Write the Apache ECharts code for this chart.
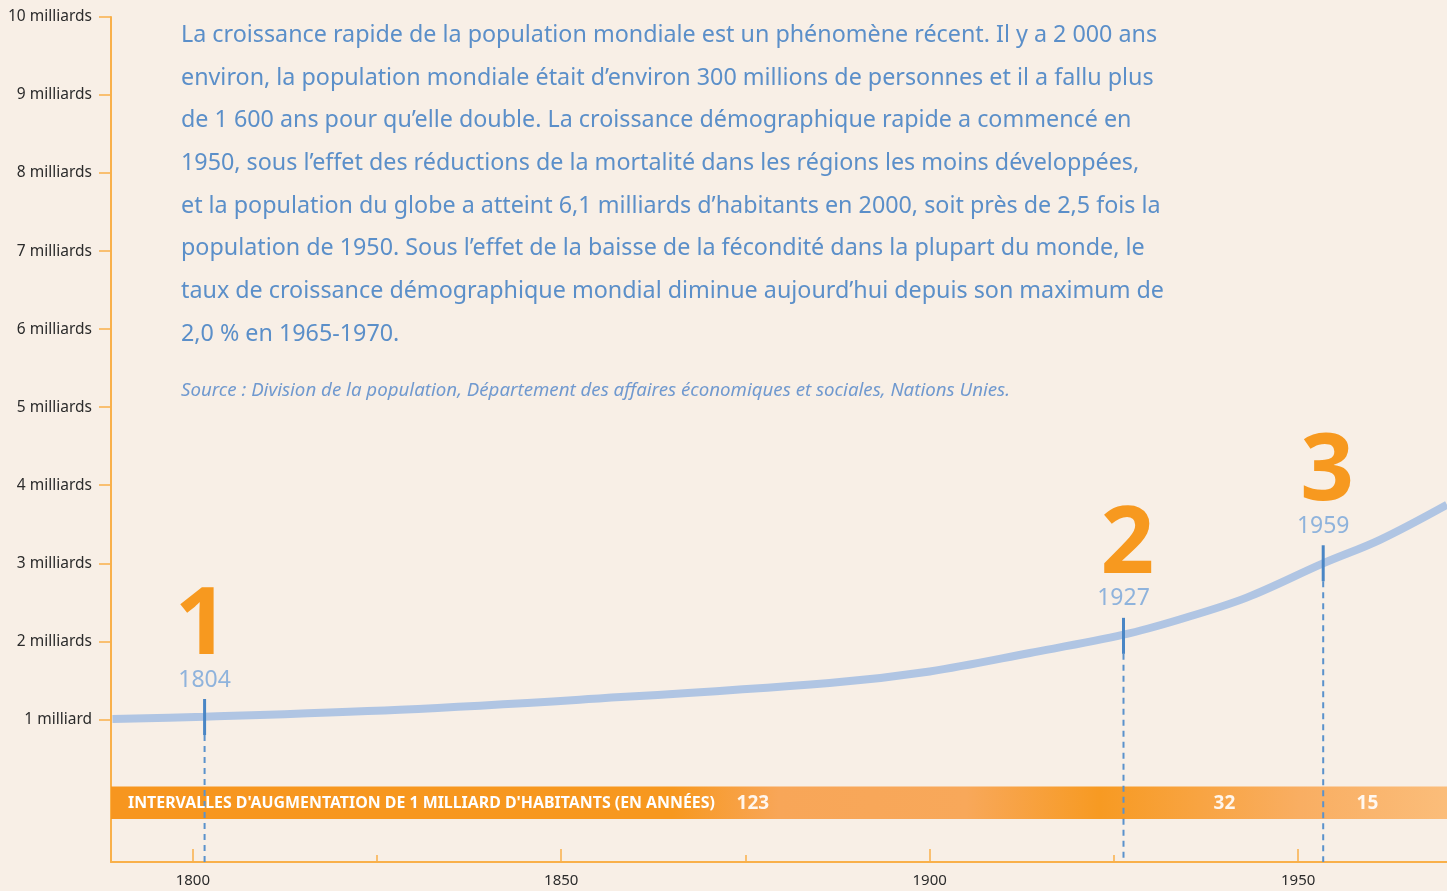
<!DOCTYPE html>
<html>
<head>
<meta charset="utf-8">
<script src="https://cdn.jsdelivr.net/npm/echarts@6/dist/echarts.min.js"></script>
<style>
  html, body { margin: 0; padding: 0; background: #f8efe6; }
  #chart { width: 1447px; height: 891px; }
</style>
</head>
<body>
<div id="chart"></div>
<script>
// population curve (years as plotted, billions)
var years = [1789.1, 1801.6, 1828.1, 1852.5, 1886.4, 1900.0, 1913.6, 1926.3, 1933.9, 1943.0, 1953.3, 1961.1, 1970.2];
var population = [1.005, 1.034, 1.124, 1.252, 1.466, 1.614, 1.85, 2.085, 2.28, 2.56, 2.995, 3.30, 3.75];

// milestones: where the marker sits on the x scale, its value, its labels
var markerYears = [1801.6, 1926.3, 1953.4];
var markerValues = [1.03, 2.07, 3.0];
var markerLabels = ['1804', '1927', '1959'];
var markerNumbers = ['1', '2', '3'];

// years needed for each additional billion
var intervalYears = [123, 32, 15];
var intervalLabelX = [1876, 1940, 1959.4];

var yTickValues = [1, 2, 3, 4, 5, 6, 7, 8, 9, 10];
var xLabelValues = [1800, 1850, 1900, 1950];
var xMinorValues = [1825, 1875, 1925];

var paragraph = [
  'La croissance rapide de la population mondiale est un phénomène récent. Il y a 2 000 ans',
  'environ, la population mondiale était d’environ 300 millions de personnes et il a fallu plus',
  'de 1 600 ans pour qu’elle double. La croissance démographique rapide a commencé en',
  '1950, sous l’effet des réductions de la mortalité dans les régions les moins développées,',
  'et la population du globe a atteint 6,1 milliards d’habitants en 2000, soit près de 2,5 fois la',
  'population de 1950. Sous l’effet de la baisse de la fécondité dans la plupart du monde, le',
  'taux de croissance démographique mondial diminue aujourd’hui depuis son maximum de',
  '2,0 % en 1965-1970.'
];
var sourceText = 'Source : Division de la population, Département des affaires économiques et sociales, Nations Unies.';
var bandTitle = 'INTERVALLES D\'AUGMENTATION DE 1 MILLIARD D\'HABITANTS (EN ANNÉES)';

var X_MIN = 1788.9, X_MAX = 1970.2, Y_MIN = -0.828, Y_MAX = 10;
var orange = '#f9b04a';
var font = '"Noto Sans", sans-serif';

var chart = echarts.init(document.getElementById('chart'));

var bandGradient = new echarts.graphic.LinearGradient(0, 0, 1, 0, [
  { offset: 0, color: '#f7961f' },
  { offset: 0.42, color: '#f7981f' },
  { offset: 0.5, color: '#f8a658' },
  { offset: 0.64, color: '#f8a85a' },
  { offset: 0.74, color: '#f79a22' },
  { offset: 0.89, color: '#f9ae62' },
  { offset: 1, color: '#fbbd7a' }
]);

chart.setOption({
  backgroundColor: '#f8efe6',
  animation: false,
  textStyle: { fontFamily: font },
  grid: { left: 111, right: 0, top: 17, bottom: 29 },
  xAxis: [{
    type: 'value', min: X_MIN, max: X_MAX,
    axisLine: { show: true, onZero: false, lineStyle: { color: orange, width: 2 } },
    axisTick: { show: true, inside: true, length: 13, customValues: xLabelValues, lineStyle: { color: orange, width: 1.5 } },
    axisLabel: {
      customValues: xLabelValues, color: '#2b2b2b', fontSize: 15, margin: 11, fontFamily: font,
      formatter: function (v) { return String(v); }
    },
    splitLine: { show: false }
  }, {
    type: 'value', min: X_MIN, max: X_MAX, position: 'bottom',
    axisLine: { show: false, onZero: false },
    axisTick: { show: true, inside: true, length: 7, customValues: xMinorValues, lineStyle: { color: orange, width: 1.5 } },
    axisLabel: { show: false },
    splitLine: { show: false }
  }],
  yAxis: {
    type: 'value', min: Y_MIN, max: Y_MAX,
    axisLine: { show: true, lineStyle: { color: orange, width: 2 } },
    axisTick: { show: true, length: 12, customValues: yTickValues, lineStyle: { color: orange, width: 1.5 } },
    axisLabel: {
      customValues: yTickValues, color: '#2b2b2b', fontSize: 15.5, margin: 19, fontFamily: font,
      formatter: function (v) { return v === 1 ? '1 milliard' : v + ' milliards'; }
    },
    splitLine: { show: false }
  },
  graphic: [{
    type: 'text', left: 181, top: 14,
    style: {
      text: paragraph.join('\n'), fill: '#5b8fc9', font: '23.3px ' + font, lineHeight: 42.7
    }
  }, {
    type: 'text', left: 181, top: 381,
    style: { text: sourceText, fill: '#7099cf', font: 'italic 18.7px ' + font }
  }, {
    type: 'text', left: 128, top: 795, z: 10,
    style: { text: bandTitle, fill: '#ffffff', font: 'bold 15.9px ' + font }
  }],
  series: [{
    type: 'line',
    data: years.map(function (y, i) { return [y, population[i]]; }),
    smooth: 0.35,
    showSymbol: false,
    lineStyle: { color: '#b0c5e3', width: 8 },
    z: 3,
    markArea: {
      silent: true,
      itemStyle: { color: bandGradient },
      data: [[{ yAxis: 0.141, xAxis: X_MIN }, { yAxis: -0.277, xAxis: X_MAX }]]
    }
  }, {
    type: 'custom',
    z: 6,
    data: intervalYears.map(function (n, i) { return [intervalLabelX[i], -0.08, n]; }),
    renderItem: function (params, api) {
      var p = api.coord([api.value(0), api.value(1)]);
      return {
        type: 'text',
        style: {
          x: p[0], y: p[1], text: String(api.value(2)),
          fill: 'rgba(255,255,255,0.9)', font: 'bold 19px ' + font,
          align: 'center', verticalAlign: 'middle'
        }
      };
    }
  }, {
    type: 'custom',
    z: 7,
    data: markerYears.map(function (y, i) { return [y, markerValues[i], i]; }),
    renderItem: function (params, api) {
      var p = api.coord([api.value(0), api.value(1)]);
      var base = api.coord([api.value(0), Y_MIN])[1];
      var i = api.value(2);
      return {
        type: 'group',
        children: [{
          type: 'line',
          shape: { x1: p[0], y1: p[1] + 18, x2: p[0], y2: base },
          style: { stroke: '#5a92cc', lineWidth: 2, lineDash: [6, 5] }
        }, {
          type: 'line',
          shape: { x1: p[0], y1: p[1] - 18, x2: p[0], y2: p[1] + 18 },
          style: { stroke: '#4a86c5', lineWidth: 3 }
        }, {
          type: 'text',
          style: {
            x: p[0], y: p[1] - 37, text: markerLabels[i],
            fill: '#8fb3dc', font: '23px ' + font, align: 'center', verticalAlign: 'middle'
          }
        }, {
          type: 'text',
          style: {
            x: p[0] + (i === 0 ? -3 : 4), y: p[1] - 90, text: markerNumbers[i],
            fill: '#f7991f', font: 'bold 94px ' + font, align: 'center', verticalAlign: 'middle'
          }
        }]
      };
    }
  }]
});
</script>
</body>
</html>
